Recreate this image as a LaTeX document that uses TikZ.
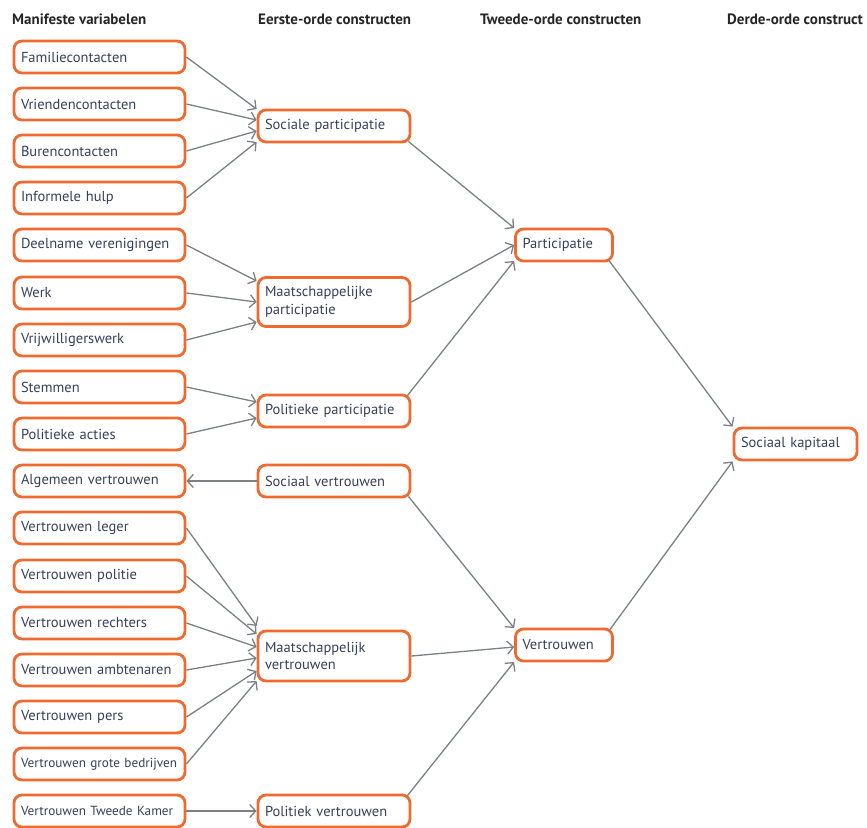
\documentclass[tikz,border=0pt]{standalone}
\usepackage{fontspec}
\setmainfont{PT Sans}
\usetikzlibrary{arrows.meta}
\definecolor{boxorange}{HTML}{EE6A2E}
\definecolor{linegray}{HTML}{7A8084}
\definecolor{textblue}{HTML}{36405A}
\begin{document}
\begin{tikzpicture}[x=1pt,y=-1pt,
  var/.style={draw=boxorange,line width=2.8pt,rounded corners=8pt,fill=white,
    text=textblue,font=\fontsize{14.5}{17.5}\selectfont,align=left,
    inner xsep=7pt,inner ysep=0pt,minimum height=32pt,
    minimum width=#1,text width=#1-14pt},
  var/.default=171pt,
  narrow/.style={font=\fontsize{13.2}{16}\selectfont},
  head/.style={anchor=west,font=\bfseries\fontsize{15}{17}\selectfont,text=black!85,inner sep=0pt},
  arr/.style={draw=linegray,line width=1.3pt,-{Straight Barb[length=6pt,width=13pt]}}]
  \useasboundingbox (0,0) rectangle (867,827);

  \node (h1) at (12,19) [head]{Manifeste variabelen};
  \node (h2) at (258,19) [head]{Eerste-orde constructen};
  \node (h3) at (480,19) [head]{Tweede-orde constructen};
  \node (h4) at (727,19) [head]{Derde-orde construct};

  \node (fam) at (99.5,57) [var]{Familiecontacten};
  \node (vri) at (99.5,104) [var]{Vriendencontacten};
  \node (bur) at (99.5,151) [var]{Burencontacten};
  \node (inf) at (99.5,198) [var]{Informele hulp};
  \node (dee) at (99.5,245) [var]{Deelname verenigingen};
  \node (wer) at (99.5,293) [var]{Werk};
  \node (vrw) at (99.5,340) [var]{Vrijwilligerswerk};
  \node (ste) at (99.5,387) [var]{Stemmen};
  \node (pac) at (99.5,434) [var]{Politieke acties};
  \node (alg) at (99.5,481) [var]{Algemeen vertrouwen};
  \node (leg) at (99.5,528) [var]{Vertrouwen leger};
  \node (pol) at (99.5,576) [var]{Vertrouwen politie};
  \node (rec) at (99.5,623) [var]{Vertrouwen rechters};
  \node (amb) at (99.5,670) [var]{Vertrouwen ambtenaren};
  \node (per) at (99.5,717) [var]{Vertrouwen pers};
  \node (bed) at (99.5,764) [var,narrow]{\mbox{Vertrouwen grote bedrijven}};
  \node (tk) at (99.5,811) [var,narrow]{\mbox{Vertrouwen Tweede Kamer}};

  \node (sp) at (334,126) [var=152pt]{Sociale participatie};
  \node (mp) at (334,302) [var=152pt,minimum height=49pt]{Maatschappelijke\\participatie};
  \node (pp) at (334,411) [var=152pt]{Politieke participatie};
  \node (sv) at (334,481) [var=152pt]{Sociaal vertrouwen};
  \node (mv) at (334,656) [var=152pt,minimum height=50pt]{Maatschappelijk\\vertrouwen};
  \node (pv) at (334,811) [var=152pt]{Politiek vertrouwen};

  \node (part) at (564,245) [var=97pt]{Participatie};
  \node (vert) at (564,645) [var=97pt]{Vertrouwen};

  \node (sk) at (795.5,444) [var=123pt]{Sociaal kapitaal};

  \draw[arr] (fam.east) -- ([yshift=17pt]sp.west);
  \draw[arr] (vri.east) -- ([yshift=6pt]sp.west);
  \draw[arr] (bur.east) -- ([yshift=-5pt]sp.west);
  \draw[arr] (inf.east) -- ([yshift=-16pt]sp.west);

  \draw[arr] (dee.east) -- ([yshift=21pt]mp.west);
  \draw[arr] (wer.east) -- (mp.west);
  \draw[arr] (vrw.east) -- ([yshift=-20pt]mp.west);

  \draw[arr] (ste.east) -- ([yshift=9pt]pp.west);
  \draw[arr] (pac.east) -- ([yshift=-7pt]pp.west);

  \draw[arr] (sv.west) -- (alg.east);

  \draw[arr] (leg.east) -- ([yshift=30pt]mv.west);
  \draw[arr] (pol.east) -- ([yshift=22pt]mv.west);
  \draw[arr] (rec.east) -- ([yshift=9pt]mv.west);
  \draw[arr] (amb.east) -- ([yshift=-2pt]mv.west);
  \draw[arr] (per.east) -- ([yshift=-15pt]mv.west);
  \draw[arr] (bed.east) -- ([yshift=-25pt]mv.west);

  \draw[arr] (tk.east) -- (pv.west);

  \draw[arr] ([xshift=-3pt,yshift=2pt]sp.south east) -- ([yshift=17pt]part.west);
  \draw[arr] (mp.east) -- (part.west);
  \draw[arr] ([xshift=-4pt,yshift=-2pt]pp.north east) -- ([yshift=-16pt]part.west);

  \draw[arr] ([xshift=-3pt,yshift=2pt]sv.south east) -- ([yshift=17pt]vert.west);
  \draw[arr] (mv.east) -- ([yshift=-2pt]vert.west);
  \draw[arr] ([xshift=-4pt,yshift=-2pt]pv.north east) -- ([yshift=-17pt]vert.west);

  \draw[arr] ([xshift=-5pt,yshift=2pt]part.south east) -- (sk.north west);
  \draw[arr] ([xshift=-4pt,yshift=-2pt]vert.north east) -- (sk.south west);

\end{tikzpicture}
\end{document}
